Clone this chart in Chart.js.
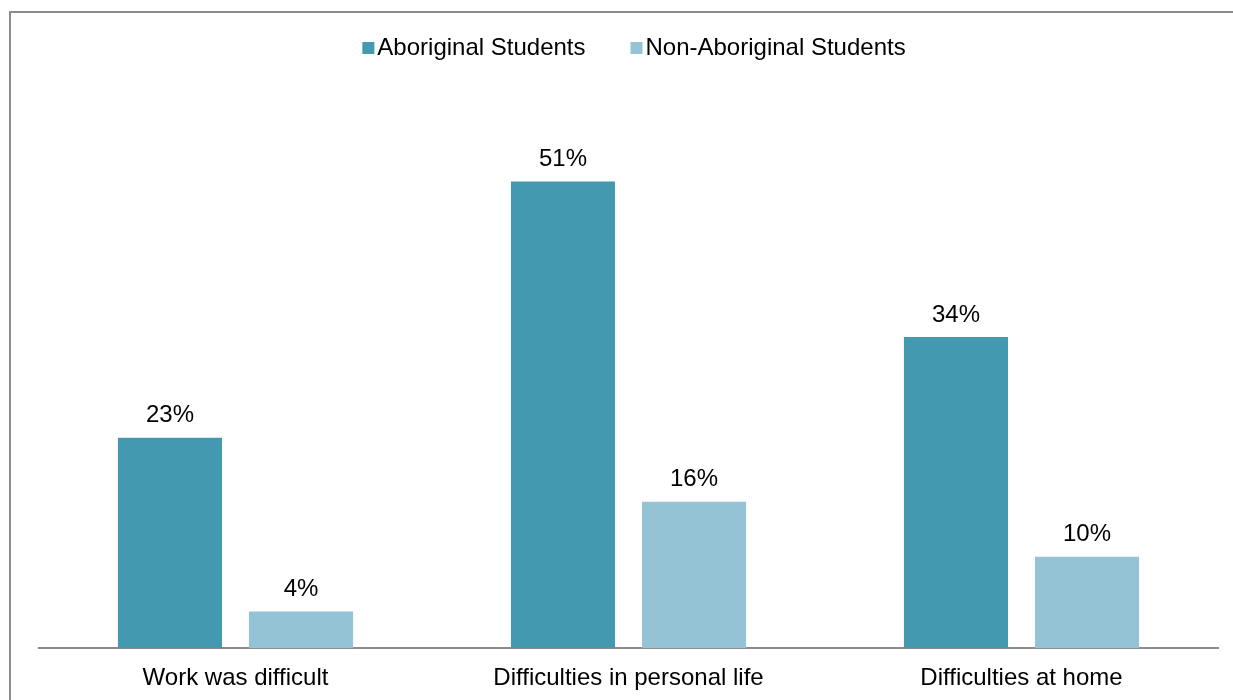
<!DOCTYPE html>
<html>
<head>
<meta charset="utf-8">
<script src="https://cdn.jsdelivr.net/npm/chart.js@4.4.0/dist/chart.umd.min.js"></script>
<style>
    html, body { margin: 0; padding: 0; background: #fff; overflow: hidden; }
    #frame { position: absolute; left: 9px; top: 11px; width: 1300px; height: 800px; border: 2px solid #8c8c8c; }
    #wrap { position: absolute; left: 0; top: 0; width: 1233px; height: 700px; }
</style>
</head>
<body>
<div id="frame"></div>
<div id="wrap"><canvas id="chart"></canvas></div>
<script>
// chart data
const categories = ['Work was difficult', 'Difficulties in personal life', 'Difficulties at home'];
const seriesNames = ['Aboriginal Students', 'Non-Aboriginal Students'];
const aboriginalValues = [23, 51, 34];
const nonAboriginalValues = [4, 16, 10];
const seriesColors = ['#4399b0', '#94c3d5'];

const FONT = 'Liberation Sans, Arial, sans-serif';
const FONT_SIZE = 24;

// value labels above each bar
const valueLabels = {
    id: 'valueLabels',
    afterDatasetsDraw(chart) {
        const ctx = chart.ctx;
        ctx.save();
        ctx.font = `${FONT_SIZE}px ${FONT}`;
        ctx.fillStyle = '#000';
        ctx.textAlign = 'center';
        ctx.textBaseline = 'middle';
        chart.data.datasets.forEach((ds, i) => {
            chart.getDatasetMeta(i).data.forEach((bar, j) => {
                ctx.fillText(ds.data[j] + '%', bar.x, bar.y - 22);
            });
        });
        ctx.restore();
    }
};

// simple legend drawn at the top
const topLegend = {
    id: 'topLegend',
    afterDraw(chart) {
        const ctx = chart.ctx;
        const box = 12, gap = 3, spacing = 45;
        ctx.save();
        ctx.font = `${FONT_SIZE}px ${FONT}`;
        ctx.textBaseline = 'middle';
        ctx.textAlign = 'left';
        const items = chart.data.datasets.map(ds => ({
            text: ds.label, color: ds.backgroundColor, w: ctx.measureText(ds.label).width
        }));
        const total = items.reduce((s, it) => s + box + gap + it.w, 0) + spacing * (items.length - 1);
        let x = 634 - total / 2;
        const y = 48;
        items.forEach(it => {
            ctx.fillStyle = it.color;
            ctx.fillRect(x, y - box / 2, box, box);
            x += box + gap;
            ctx.fillStyle = '#000';
            ctx.fillText(it.text, x, y);
            x += it.w + spacing;
        });
        ctx.restore();
    }
};

new Chart(document.getElementById('chart'), {
    type: 'bar',
    data: {
        labels: categories,
        datasets: [{
            label: seriesNames[0],
            data: aboriginalValues,
            backgroundColor: seriesColors[0],
            categoryPercentage: 0.667,
            barPercentage: 0.794
        }, {
            label: seriesNames[1],
            data: nonAboriginalValues,
            backgroundColor: seriesColors[1],
            categoryPercentage: 0.667,
            barPercentage: 0.794
        }]
    },
    options: {
        responsive: true,
        maintainAspectRatio: false,
        animation: false,
        layout: {
            padding: { left: 39, right: 15, top: 99, bottom: -9 }
        },
        plugins: {
            legend: { display: false },
            tooltip: { enabled: false }
        },
        scales: {
            x: {
                grid: { display: false, drawTicks: false },
                border: { display: true, color: '#8c8c8c', width: 2 },
                ticks: {
                    color: '#000',
                    padding: 16,
                    font: { family: FONT, size: FONT_SIZE }
                }
            },
            y: {
                display: false,
                min: 0,
                max: 60
            }
        }
    },
    plugins: [valueLabels, topLegend]
});
</script>
</body>
</html>
